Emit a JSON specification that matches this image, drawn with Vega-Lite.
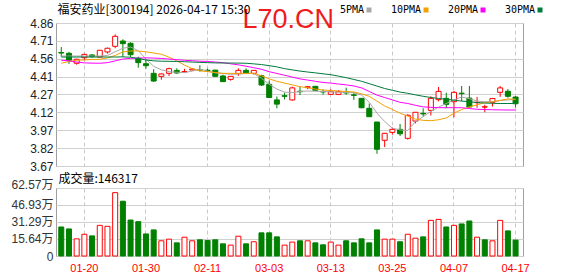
{
  "$schema": "https://vega.github.io/schema/vega-lite/v6.json",
  "background": "white",
  "padding": {"left": 3, "top": 3, "right": 0, "bottom": 0},
  "bounds": "flush",
  "spacing": 22,
  "config": {
    "view": {"stroke": "#a0a0a0", "strokeWidth": 1},
    "axis": {"labelFont": "Liberation Sans, Noto Sans CJK SC", "labelFontSize": 12, "labelColor": "#222222", "ticks": false, "domain": false, "labelOverlap": false, "labelFlush": false}
  },
  "resolve": {"scale": {"color": "independent"}, "legend": {"color": "independent"}},
  "datasets": {
    "k": [
      {"d": "01-15", "o": 4.615, "h": 4.66, "l": 4.58, "c": 4.61, "dir": "dn", "v": 267000, "vdir": "dn", "5PMA": 4.585, "10PMA": 4.525, "20PMA": 4.55, "30PMA": 4.577},
      {"d": "01-16", "o": 4.608, "h": 4.62, "l": 4.52, "c": 4.55, "dir": "dn", "v": 249000, "vdir": "dn", "5PMA": 4.585, "10PMA": 4.54, "20PMA": 4.545, "30PMA": 4.577},
      {"d": "01-19", "o": 4.525, "h": 4.563, "l": 4.513, "c": 4.558, "dir": "up", "v": 158000, "vdir": "up", "5PMA": 4.585, "10PMA": 4.55, "20PMA": 4.535, "30PMA": 4.577},
      {"d": "01-20", "o": 4.571, "h": 4.605, "l": 4.55, "c": 4.599, "dir": "up", "v": 200000, "vdir": "up", "5PMA": 4.585, "10PMA": 4.553, "20PMA": 4.528, "30PMA": 4.577},
      {"d": "01-21", "o": 4.594, "h": 4.6, "l": 4.57, "c": 4.58, "dir": "dn", "v": 185000, "vdir": "dn", "5PMA": 4.585, "10PMA": 4.556, "20PMA": 4.526, "30PMA": 4.577},
      {"d": "01-22", "o": 4.577, "h": 4.635, "l": 4.575, "c": 4.633, "dir": "up", "v": 282000, "vdir": "up", "5PMA": 4.585, "10PMA": 4.558, "20PMA": 4.525, "30PMA": 4.577},
      {"d": "01-23", "o": 4.619, "h": 4.655, "l": 4.605, "c": 4.65, "dir": "up", "v": 273000, "vdir": "up", "5PMA": 4.59, "10PMA": 4.57, "20PMA": 4.53, "30PMA": 4.577},
      {"d": "01-26", "o": 4.666, "h": 4.766, "l": 4.65, "c": 4.749, "dir": "up", "v": 583000, "vdir": "up", "5PMA": 4.62, "10PMA": 4.59, "20PMA": 4.545, "30PMA": 4.577},
      {"d": "01-27", "o": 4.71, "h": 4.724, "l": 4.577, "c": 4.688, "dir": "dn", "v": 504000, "vdir": "dn", "5PMA": 4.65, "10PMA": 4.62, "20PMA": 4.56, "30PMA": 4.578},
      {"d": "01-28", "o": 4.691, "h": 4.7, "l": 4.577, "c": 4.596, "dir": "dn", "v": 331000, "vdir": "dn", "5PMA": 4.66, "10PMA": 4.627, "20PMA": 4.566, "30PMA": 4.575},
      {"d": "01-29", "o": 4.566, "h": 4.58, "l": 4.488, "c": 4.53, "dir": "dn", "v": 316000, "vdir": "dn", "5PMA": 4.63, "10PMA": 4.627, "20PMA": 4.568, "30PMA": 4.565},
      {"d": "01-30", "o": 4.521, "h": 4.558, "l": 4.48, "c": 4.505, "dir": "dn", "v": 203000, "vdir": "dn", "5PMA": 4.56, "10PMA": 4.62, "20PMA": 4.57, "30PMA": 4.552},
      {"d": "02-02", "o": 4.441, "h": 4.475, "l": 4.37, "c": 4.377, "dir": "dn", "v": 240000, "vdir": "dn", "5PMA": 4.5, "10PMA": 4.61, "20PMA": 4.568, "30PMA": 4.545},
      {"d": "02-03", "o": 4.416, "h": 4.441, "l": 4.388, "c": 4.436, "dir": "up", "v": 140000, "vdir": "up", "5PMA": 4.47, "10PMA": 4.6, "20PMA": 4.565, "30PMA": 4.542},
      {"d": "02-04", "o": 4.441, "h": 4.488, "l": 4.419, "c": 4.48, "dir": "up", "v": 155000, "vdir": "up", "5PMA": 4.455, "10PMA": 4.575, "20PMA": 4.56, "30PMA": 4.541},
      {"d": "02-05", "o": 4.466, "h": 4.483, "l": 4.438, "c": 4.444, "dir": "dn", "v": 121000, "vdir": "dn", "5PMA": 4.45, "10PMA": 4.545, "20PMA": 4.555, "30PMA": 4.54},
      {"d": "02-06", "o": 4.452, "h": 4.479, "l": 4.45, "c": 4.456, "dir": "up", "v": 173000, "vdir": "up", "5PMA": 4.447, "10PMA": 4.51, "20PMA": 4.55, "30PMA": 4.538},
      {"d": "02-09", "o": 4.469, "h": 4.48, "l": 4.466, "c": 4.477, "dir": "up", "v": 140000, "vdir": "up", "5PMA": 4.46, "10PMA": 4.48, "20PMA": 4.546, "30PMA": 4.535},
      {"d": "02-10", "o": 4.472, "h": 4.508, "l": 4.455, "c": 4.468, "dir": "dn", "v": 149000, "vdir": "dn", "5PMA": 4.475, "10PMA": 4.462, "20PMA": 4.542, "30PMA": 4.532},
      {"d": "02-11", "o": 4.467, "h": 4.48, "l": 4.453, "c": 4.463, "dir": "dn", "v": 143000, "vdir": "dn", "5PMA": 4.46, "10PMA": 4.455, "20PMA": 4.54, "30PMA": 4.53},
      {"d": "02-12", "o": 4.468, "h": 4.47, "l": 4.415, "c": 4.416, "dir": "dn", "v": 149000, "vdir": "dn", "5PMA": 4.445, "10PMA": 4.448, "20PMA": 4.535, "30PMA": 4.528},
      {"d": "02-13", "o": 4.419, "h": 4.43, "l": 4.37, "c": 4.372, "dir": "dn", "v": 112000, "vdir": "dn", "5PMA": 4.44, "10PMA": 4.441, "20PMA": 4.53, "30PMA": 4.527},
      {"d": "02-24", "o": 4.391, "h": 4.416, "l": 4.38, "c": 4.416, "dir": "up", "v": 100000, "vdir": "up", "5PMA": 4.433, "10PMA": 4.441, "20PMA": 4.52, "30PMA": 4.527},
      {"d": "02-25", "o": 4.438, "h": 4.483, "l": 4.42, "c": 4.466, "dir": "up", "v": 182000, "vdir": "up", "5PMA": 4.435, "10PMA": 4.441, "20PMA": 4.512, "30PMA": 4.526},
      {"d": "02-26", "o": 4.466, "h": 4.483, "l": 4.438, "c": 4.444, "dir": "dn", "v": 112000, "vdir": "dn", "5PMA": 4.44, "10PMA": 4.441, "20PMA": 4.5, "30PMA": 4.525},
      {"d": "02-27", "o": 4.441, "h": 4.466, "l": 4.43, "c": 4.466, "dir": "up", "v": 131000, "vdir": "up", "5PMA": 4.44, "10PMA": 4.441, "20PMA": 4.488, "30PMA": 4.52},
      {"d": "03-02", "o": 4.421, "h": 4.43, "l": 4.335, "c": 4.344, "dir": "dn", "v": 213000, "vdir": "dn", "5PMA": 4.4, "10PMA": 4.42, "20PMA": 4.475, "30PMA": 4.514},
      {"d": "03-03", "o": 4.35, "h": 4.38, "l": 4.235, "c": 4.24, "dir": "dn", "v": 213000, "vdir": "dn", "5PMA": 4.35, "10PMA": 4.395, "20PMA": 4.455, "30PMA": 4.505},
      {"d": "03-04", "o": 4.22, "h": 4.248, "l": 4.15, "c": 4.185, "dir": "dn", "v": 176000, "vdir": "dn", "5PMA": 4.31, "10PMA": 4.375, "20PMA": 4.44, "30PMA": 4.495},
      {"d": "03-05", "o": 4.255, "h": 4.28, "l": 4.224, "c": 4.25, "dir": "dn", "v": 100000, "vdir": "up", "5PMA": 4.285, "10PMA": 4.36, "20PMA": 4.425, "30PMA": 4.48},
      {"d": "03-06", "o": 4.22, "h": 4.33, "l": 4.213, "c": 4.32, "dir": "up", "v": 128000, "vdir": "up", "5PMA": 4.28, "10PMA": 4.345, "20PMA": 4.41, "30PMA": 4.47},
      {"d": "03-09", "o": 4.292, "h": 4.33, "l": 4.26, "c": 4.288, "dir": "dn", "v": 140000, "vdir": "dn", "5PMA": 4.29, "10PMA": 4.33, "20PMA": 4.395, "30PMA": 4.46},
      {"d": "03-10", "o": 4.322, "h": 4.336, "l": 4.31, "c": 4.33, "dir": "up", "v": 140000, "vdir": "up", "5PMA": 4.294, "10PMA": 4.322, "20PMA": 4.385, "30PMA": 4.452},
      {"d": "03-11", "o": 4.333, "h": 4.335, "l": 4.3, "c": 4.3, "dir": "dn", "v": 121000, "vdir": "dn", "5PMA": 4.292, "10PMA": 4.31, "20PMA": 4.375, "30PMA": 4.445},
      {"d": "03-12", "o": 4.29, "h": 4.308, "l": 4.263, "c": 4.286, "dir": "dn", "v": 103000, "vdir": "dn", "5PMA": 4.29, "10PMA": 4.302, "20PMA": 4.365, "30PMA": 4.437},
      {"d": "03-13", "o": 4.266, "h": 4.308, "l": 4.263, "c": 4.288, "dir": "up", "v": 128000, "vdir": "up", "5PMA": 4.288, "10PMA": 4.298, "20PMA": 4.36, "30PMA": 4.43},
      {"d": "03-16", "o": 4.266, "h": 4.3, "l": 4.26, "c": 4.288, "dir": "up", "v": 100000, "vdir": "up", "5PMA": 4.285, "10PMA": 4.294, "20PMA": 4.352, "30PMA": 4.418},
      {"d": "03-17", "o": 4.282, "h": 4.322, "l": 4.263, "c": 4.278, "dir": "dn", "v": 140000, "vdir": "dn", "5PMA": 4.282, "10PMA": 4.29, "20PMA": 4.345, "30PMA": 4.405},
      {"d": "03-18", "o": 4.262, "h": 4.28, "l": 4.22, "c": 4.258, "dir": "dn", "v": 121000, "vdir": "dn", "5PMA": 4.28, "10PMA": 4.286, "20PMA": 4.336, "30PMA": 4.39},
      {"d": "03-19", "o": 4.233, "h": 4.233, "l": 4.15, "c": 4.155, "dir": "dn", "v": 158000, "vdir": "dn", "5PMA": 4.26, "10PMA": 4.27, "20PMA": 4.32, "30PMA": 4.375},
      {"d": "03-20", "o": 4.15, "h": 4.19, "l": 4.08, "c": 4.08, "dir": "dn", "v": 121000, "vdir": "dn", "5PMA": 4.2, "10PMA": 4.25, "20PMA": 4.29, "30PMA": 4.355},
      {"d": "03-23", "o": 4.036, "h": 4.036, "l": 3.772, "c": 3.809, "dir": "dn", "v": 240000, "vdir": "dn", "5PMA": 4.11, "10PMA": 4.21, "20PMA": 4.26, "30PMA": 4.335},
      {"d": "03-24", "o": 3.884, "h": 3.942, "l": 3.828, "c": 3.942, "dir": "up", "v": 155000, "vdir": "up", "5PMA": 4.04, "10PMA": 4.17, "20PMA": 4.24, "30PMA": 4.315},
      {"d": "03-25", "o": 3.95, "h": 3.99, "l": 3.93, "c": 3.975, "dir": "up", "v": 155000, "vdir": "up", "5PMA": 3.985, "10PMA": 4.14, "20PMA": 4.22, "30PMA": 4.3},
      {"d": "03-26", "o": 3.975, "h": 4.02, "l": 3.92, "c": 3.938, "dir": "dn", "v": 131000, "vdir": "dn", "5PMA": 3.97, "10PMA": 4.11, "20PMA": 4.2, "30PMA": 4.285},
      {"d": "03-27", "o": 3.9, "h": 4.1, "l": 3.89, "c": 4.092, "dir": "up", "v": 200000, "vdir": "up", "5PMA": 3.965, "10PMA": 4.085, "20PMA": 4.19, "30PMA": 4.275},
      {"d": "03-30", "o": 4.044, "h": 4.117, "l": 4.025, "c": 4.117, "dir": "up", "v": 164000, "vdir": "up", "5PMA": 4.04, "10PMA": 4.06, "20PMA": 4.175, "30PMA": 4.262},
      {"d": "03-31", "o": 4.108, "h": 4.15, "l": 4.08, "c": 4.103, "dir": "dn", "v": 176000, "vdir": "dn", "5PMA": 4.08, "10PMA": 4.05, "20PMA": 4.162, "30PMA": 4.25},
      {"d": "04-01", "o": 4.133, "h": 4.25, "l": 4.09, "c": 4.233, "dir": "up", "v": 328000, "vdir": "up", "5PMA": 4.125, "10PMA": 4.047, "20PMA": 4.158, "30PMA": 4.24},
      {"d": "04-02", "o": 4.222, "h": 4.327, "l": 4.208, "c": 4.291, "dir": "up", "v": 337000, "vdir": "up", "5PMA": 4.16, "10PMA": 4.055, "20PMA": 4.155, "30PMA": 4.232},
      {"d": "04-03", "o": 4.233, "h": 4.28, "l": 4.15, "c": 4.183, "dir": "dn", "v": 267000, "vdir": "dn", "5PMA": 4.19, "10PMA": 4.07, "20PMA": 4.155, "30PMA": 4.225},
      {"d": "04-07", "o": 4.205, "h": 4.294, "l": 4.075, "c": 4.283, "dir": "up", "v": 282000, "vdir": "up", "5PMA": 4.22, "10PMA": 4.11, "20PMA": 4.155, "30PMA": 4.218},
      {"d": "04-08", "o": 4.276, "h": 4.336, "l": 4.211, "c": 4.272, "dir": "dn", "v": 295000, "vdir": "dn", "5PMA": 4.244, "10PMA": 4.14, "20PMA": 4.155, "30PMA": 4.21},
      {"d": "04-09", "o": 4.235, "h": 4.336, "l": 4.153, "c": 4.161, "dir": "dn", "v": 322000, "vdir": "dn", "5PMA": 4.23, "10PMA": 4.161, "20PMA": 4.148, "30PMA": 4.205},
      {"d": "04-10", "o": 4.197, "h": 4.245, "l": 4.155, "c": 4.2, "dir": "up", "v": 173000, "vdir": "up", "5PMA": 4.211, "10PMA": 4.18, "20PMA": 4.142, "30PMA": 4.198},
      {"d": "04-13", "o": 4.16, "h": 4.18, "l": 4.117, "c": 4.163, "dir": "up", "v": 149000, "vdir": "dn", "5PMA": 4.205, "10PMA": 4.197, "20PMA": 4.14, "30PMA": 4.194},
      {"d": "04-14", "o": 4.2, "h": 4.232, "l": 4.165, "c": 4.232, "dir": "up", "v": 140000, "vdir": "up", "5PMA": 4.203, "10PMA": 4.205, "20PMA": 4.138, "30PMA": 4.192},
      {"d": "04-15", "o": 4.283, "h": 4.336, "l": 4.245, "c": 4.32, "dir": "up", "v": 328000, "vdir": "up", "5PMA": 4.215, "10PMA": 4.216, "20PMA": 4.137, "30PMA": 4.19},
      {"d": "04-16", "o": 4.292, "h": 4.31, "l": 4.238, "c": 4.25, "dir": "dn", "v": 231000, "vdir": "dn", "5PMA": 4.22, "10PMA": 4.228, "20PMA": 4.136, "30PMA": 4.19},
      {"d": "04-17", "o": 4.244, "h": 4.253, "l": 4.157, "c": 4.188, "dir": "dn", "v": 146317, "vdir": "dn", "5PMA": 4.225, "10PMA": 4.225, "20PMA": 4.136, "30PMA": 4.19}
    ]
  },
  "vconcat": [
    {
      "width": 467,
      "height": 143,
      "data": {"name": "k"},
      "encoding": {
        "x": {
          "field": "d", "type": "ordinal", "sort": null,
          "scale": {"paddingInner": 0.35, "paddingOuter": 0.5, "align": 0.36, "round": false},
          "axis": {
            "orient": "bottom",
            "values": ["01-20", "01-30", "02-11", "03-03", "03-13", "03-25", "04-07", "04-17"],
            "labels": false, "ticks": false, "domain": false,
            "grid": true, "gridDash": [4, 3], "gridColor": "#c8c8c8", "bandPosition": 0.5,
            "title": "L70.CN", "titleX": 186, "titleY": -138.3, "titleAlign": "left", "titleAnchor": "start",
            "titleBaseline": "alphabetic", "titleFont": "Liberation Sans", "titleFontSize": 27,
            "titleFontWeight": "normal", "titleColor": "#ee1c1c"
          }
        }
      },
      "layer": [
        {
          "mark": {"type": "rule", "strokeWidth": 1},
          "encoding": {
            "y": {
              "field": "l", "type": "quantitative",
              "scale": {"domain": [3.67, 4.86], "nice": false, "zero": false},
              "axis": {
                "values": [3.67, 3.81875, 3.9675, 4.11625, 4.2651, 4.41375, 4.5625, 4.71125, 4.86],
                "tickCount": 9,
                "format": ".2f", "grid": true, "gridColor": "#d0d0d0", "labelPadding": 3,
                "labelOverlap": false, "labelFlush": false,
                "minExtent": 52, "maxExtent": 52,
                "title": "福安药业[300194] 2026-04-17 15:30", "titleAngle": 0, "titleX": 1, "titleY": -9.5,
                "titleAlign": "left", "titleBaseline": "alphabetic", "titleFont": "Noto Sans CJK SC",
                "titleFontSize": 12, "titleFontWeight": "normal", "titleColor": "#000000"
              }
            },
            "y2": {"field": "h"},
            "color": {"condition": {"test": "datum.dir == 'up'", "value": "#ff0000"}, "value": "#008000"}
          }
        },
        {
          "mark": {"type": "bar", "strokeWidth": 1},
          "encoding": {
            "y": {"field": "o", "type": "quantitative"},
            "y2": {"field": "c"},
            "fill": {"condition": {"test": "datum.dir == 'up'", "value": "#ffffff"}, "value": "#008000"},
            "stroke": {"condition": {"test": "datum.dir == 'up'", "value": "#ff0000"}, "value": "#008000"}
          }
        },
        {
          "transform": [{"fold": ["5PMA", "10PMA", "20PMA", "30PMA"], "as": ["ma", "val"]}],
          "mark": {"type": "line", "strokeWidth": 1},
          "encoding": {
            "y": {"field": "val", "type": "quantitative"},
            "color": {
              "field": "ma", "type": "nominal",
              "scale": {"domain": ["5PMA", "10PMA", "20PMA", "30PMA"], "range": ["#a8a8a8", "#f5a000", "#ff00ff", "#007a3d"]},
              "legend": {
                "orient": "none", "legendX": 284, "legendY": -18, "direction": "horizontal", "title": null,
                "padding": 0, "symbolType": "stroke", "symbolSize": 25, "symbolStrokeWidth": 5,
                "labelFont": "DejaVu Sans Mono", "labelFontSize": 10, "labelColor": "#000000",
                "columnPadding": 9,
                "encode": {
                  "labels": {"update": {"x": {"value": 0}}},
                  "symbols": {"update": {"x": {"signal": "datum.label == '5PMA' ? 29 : 35"}}}
                }
              }
            }
          }
        }
      ]
    },
    {
      "width": 467,
      "height": 68,
      "data": {"name": "k"},
      "mark": {"type": "bar", "strokeWidth": 1},
      "encoding": {
        "x": {
          "field": "d", "type": "ordinal", "sort": null,
          "scale": {"paddingInner": 0.35, "paddingOuter": 0.5, "align": 0.36, "round": false},
          "axis": {
            "values": ["01-20", "01-30", "02-11", "03-03", "03-13", "03-25", "04-07", "04-17"],
            "labelColor": "#ff0000", "labelFont": "Liberation Sans", "labelFontSize": 11, "labelAngle": 0,
            "labelPadding": 6, "grid": true, "gridDash": [4, 3], "gridColor": "#c8c8c8", "bandPosition": 0.5,
            "title": null
          }
        },
        "y": {
          "field": "v", "type": "quantitative",
          "scale": {"domain": [0, 625700], "nice": false},
          "axis": {
            "values": [0, 156426, 312852, 469276, 625700],
            "tickCount": 5,
            "labelExpr": "datum.value == 0 ? '0' : format(datum.value / 10000, '.2f') + '万'",
            "labelOffset": {"condition": {"test": "datum.value == 625700", "value": -4}, "value": 0},
            "grid": true, "gridColor": "#d0d0d0", "labelPadding": 3, "minExtent": 52, "maxExtent": 52,
            "labelOverlap": false, "labelFlush": false,
            "labelColor": "#333333",
            "title": "成交量:146317", "titleAngle": 0, "titleX": 2, "titleY": -5.5,
            "titleAlign": "left", "titleBaseline": "alphabetic", "titleFont": "Noto Sans CJK SC",
            "titleFontSize": 12, "titleFontWeight": "normal", "titleColor": "#000000"
          }
        },
        "fill": {"condition": {"test": "datum.vdir == 'up'", "value": "#ffffff"}, "value": "#008000"},
        "stroke": {"condition": {"test": "datum.vdir == 'up'", "value": "#ff0000"}, "value": "#008000"}
      }
    }
  ]
}
